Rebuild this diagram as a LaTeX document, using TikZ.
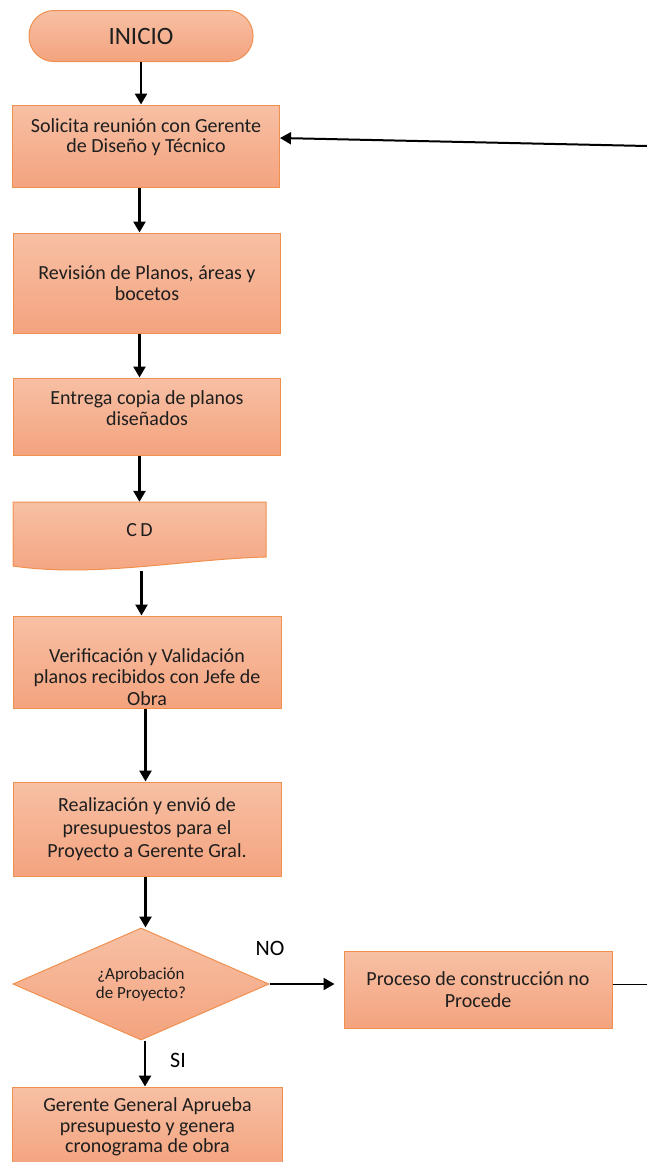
\documentclass[tikz,border=0pt]{standalone}
\usepackage{fontspec}
\setmainfont{Carlito}
\usetikzlibrary{arrows.meta,shapes.geometric}
\definecolor{edge}{HTML}{F0904F}
\definecolor{toptint}{HTML}{F7C0A4}
\definecolor{bottint}{HTML}{F4A37E}
\definecolor{ink}{HTML}{1E1E1E}
\begin{document}
\begin{tikzpicture}[x=1pt,y=-1pt,inner sep=0pt,
  box/.style={draw=edge,line width=1pt,top color=toptint,bottom color=bottint,align=center,text=ink,font=\fontsize{20}{20.5}\selectfont},
  txt/.style={align=center,text=ink,font=\fontsize{20}{21.5}\selectfont},
  arr/.style={-{Triangle[length=11pt,width=12pt]},line width=2.6pt}]
  \useasboundingbox (0,0) rectangle (647,1162);
  \clip (0,0) rectangle (647,1162);
  \node[box,rounded corners=25pt,minimum width=224pt,minimum height=51pt,font=\fontsize{25}{26}\selectfont] (inicio) at (141,36) {INICIO};
  \node[box,minimum width=267pt,minimum height=82pt] (sol) at (146,146) {Solicita reunión con Gerente\\de Diseño y Técnico\\~};
  \node[box,minimum width=267pt,minimum height=100pt] (rev) at (147,283) {Revisión de Planos, áreas y\\bocetos};
  \node[box,minimum width=267pt,minimum height=77pt] (ent) at (147,416.5) {};
  \node[txt] (enttxt) at (147,408) {Entrega copia de planos\\diseñados};
  % documento con borde ondulado
  \draw[draw=edge,line width=1pt,top color=toptint,bottom color=bottint] (13,502) -- (266,502) -- (266,557) .. controls (185,559) and (95,578) .. (13,566) -- cycle;
  \node[minimum width=253pt,minimum height=56pt,text=ink,font=\fontsize{20}{20.5}\selectfont] (cd) at (139.5,530) {C\,D};
  \node[box,minimum width=268pt,minimum height=92pt] (ver) at (147,662) {};
  \node[txt] (vertxt) at (147,677) {Verificación y Validación\\planos recibidos con  Jefe de\\Obra};
  \node[box,minimum width=268pt,minimum height=94pt] (rea) at (147,829) {};
  \node[txt,font=\fontsize{20}{23}\selectfont] (reatxt) at (147,829) {Realización y envió de\\presupuestos para el\\Proyecto a Gerente Gral.};
  \node[box,shape=diamond,aspect=2.3,minimum width=256pt,minimum height=112pt,font=\fontsize{17}{19}\selectfont] (dec) at (141,984) {¿Aprobación\\de Proyecto?};
  \node[box,minimum width=268pt,minimum height=77pt,font=\fontsize{20}{21.5}\selectfont] (pro) at (478,989.5) {Proceso de construcción no\\Procede};
  \node[box,minimum width=270pt,minimum height=80pt] (ger) at (147.5,1127) {Gerente General Aprueba\\presupuesto y genera\\cronograma de obra};
  \node[font=\fontsize{22}{22}\selectfont] (no) at (270,948) {NO};
  \node[font=\fontsize{22}{22}\selectfont] (si) at (178,1060) {SI};
  \coordinate (ret) at (647,146);
  \coordinate (out) at (647,984);
  \draw[arr] (inicio) -- (inicio |- sol.north);
  \draw[arr] (sol.south -| cd.north) -- (rev.north -| cd.north);
  \draw[arr] (rev.south -| cd.north) -- (ent.north -| cd.north);
  \draw[arr] (ent.south -| cd.north) -- (cd.north);
  \draw[arr] ([xshift=2pt,yshift=-13pt]cd.south) -- ([xshift=2pt]cd.south |- ver.north);
  \draw[arr] ([xshift=-1.5pt]ver.south) -- ([xshift=-1.5pt]rea.north);
  \draw[arr] ([xshift=-1.5pt]rea.south) -- ([xshift=-1.5pt]rea.south |- dec.north);
  \draw[arr] ([xshift=4pt]dec.south) -- ([xshift=4pt]dec.south |- ger.north);
  \draw[-{Triangle[length=11pt,width=12pt]},line width=2pt,shorten >=9pt] (dec.east) -- (dec.east -| pro.west);
  \draw[line width=1pt] (pro.east |- out) -- (out);
  \draw[-{Triangle[length=11pt,width=12pt]},line width=2pt] (ret) -- ([yshift=8pt]sol.east);
\end{tikzpicture}
\end{document}
